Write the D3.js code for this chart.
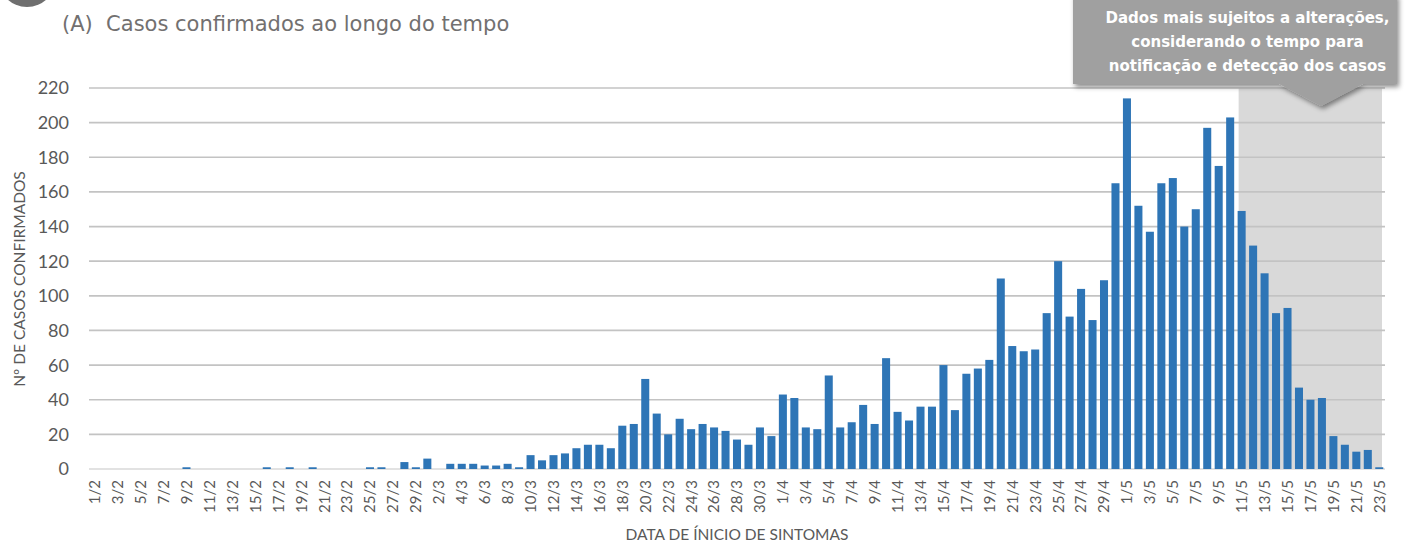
<!DOCTYPE html>
<html>
<head>
<meta charset="utf-8">
<script src="https://cdn.jsdelivr.net/npm/d3@7"></script>
<style>
  html, body { margin: 0; padding: 0; background: #ffffff; }
  svg { display: block; }
</style>
</head>
<body>
<svg id="chart" width="1418" height="543"></svg>
<script>
// ---- data ----
const dates = [
  "1/2","2/2","3/2","4/2","5/2","6/2","7/2","8/2","9/2","10/2","11/2","12/2","13/2","14/2","15/2",
  "16/2","17/2","18/2","19/2","20/2","21/2","22/2","23/2","24/2","25/2","26/2","27/2","28/2","29/2",
  "1/3","2/3","3/3","4/3","5/3","6/3","7/3","8/3","9/3","10/3","11/3","12/3","13/3","14/3","15/3",
  "16/3","17/3","18/3","19/3","20/3","21/3","22/3","23/3","24/3","25/3","26/3","27/3","28/3","29/3",
  "30/3","31/3",
  "1/4","2/4","3/4","4/4","5/4","6/4","7/4","8/4","9/4","10/4","11/4","12/4","13/4","14/4","15/4",
  "16/4","17/4","18/4","19/4","20/4","21/4","22/4","23/4","24/4","25/4","26/4","27/4","28/4","29/4","30/4",
  "1/5","2/5","3/5","4/5","5/5","6/5","7/5","8/5","9/5","10/5","11/5","12/5","13/5","14/5","15/5",
  "16/5","17/5","18/5","19/5","20/5","21/5","22/5","23/5"
];
const casos = [
  0,0,0,0,0,0,0,0,1,0,0,0,0,0,0,
  1,0,1,0,1,0,0,0,0,1,1,0,4,1,
  6,0,3,3,3,2,2,3,1,8,5,8,9,12,14,
  14,12,25,26,52,32,20,29,23,26,24,22,17,14,
  24,19,
  43,41,24,23,54,24,27,37,26,64,33,28,36,36,60,
  34,55,58,63,110,71,68,69,90,120,88,104,86,109,165,
  214,152,137,165,168,140,150,197,175,203,149,129,113,90,93,
  47,40,41,19,14,10,11,1
];
const yTicks = [0,20,40,60,80,100,120,140,160,180,200,220];
const shadeStart = "11/5";
const title = "(A)  Casos confirmados ao longo do tempo";
const yTitle = "Nº DE CASOS CONFIRMADOS";
const xTitle = "DATA DE ÍNICIO DE SINTOMAS";
const calloutLines = ["Dados mais sujeitos a alterações,", "considerando o tempo para", "notificação e detecção dos casos"];

// ---- layout ----
const svg = d3.select("#chart");
const pLeft = 89, pRight = 1385, pTop = 88, pBottom = 469;

const x = d3.scaleBand().domain(dates).range([pLeft, pRight]).paddingInner(0.3).paddingOuter(0.15);
const y = d3.scaleLinear().domain([0, 220]).range([pBottom, pTop]);

const tickFont = "Lato, 'Open Sans', sans-serif";
const grey = "#595959";

// decorative circle top-left
svg.append("circle").attr("cx", 27).attr("cy", -22).attr("r", 29).attr("fill", "#6f6f6f");

// title
svg.append("text").attr("x", 62).attr("y", 31)
  .attr("font-family", "'DejaVu Sans', sans-serif").attr("font-size", 21)
  .attr("fill", "#727070").style("white-space", "pre").text(title);

// shaded region
const shadeX0 = x(shadeStart) + 1;
svg.append("rect").attr("x", shadeX0).attr("y", y(220))
  .attr("width", pRight - 3 - shadeX0).attr("height", y(0) - y(220))
  .attr("fill", "#d9d9d9");

// gridlines
svg.append("g").selectAll("line").data(yTicks).join("line")
  .attr("x1", pLeft).attr("x2", pRight)
  .attr("y1", d => y(d)).attr("y2", d => y(d))
  .attr("stroke", d => d === 0 ? "#d9d9d9" : "#c3c3c3").attr("stroke-width", 1.7);

// y tick labels
svg.append("g").selectAll("text").data(yTicks).join("text")
  .attr("x", 69).attr("y", d => y(d)).attr("dy", "0.36em")
  .attr("text-anchor", "end").attr("font-family", tickFont).attr("font-size", 18)
  .attr("fill", grey).text(d => d);

// bars
svg.append("g").selectAll("rect").data(dates).join("rect")
  .attr("x", d => x(d)).attr("width", x.bandwidth())
  .attr("y", (d, i) => y(casos[i])).attr("height", (d, i) => y(0) - y(casos[i]))
  .attr("fill", "#2e75b6");

// x tick labels (every other date)
svg.append("g").selectAll("text").data(dates.filter((d, i) => i % 2 === 0)).join("text")
  .attr("transform", d => `translate(${x(d) + x.bandwidth() / 2},480) rotate(-90)`)
  .attr("text-anchor", "end").attr("dy", "0.36em")
  .attr("font-family", tickFont).attr("font-size", 15)
  .attr("fill", grey).text(d => d);

// axis titles
svg.append("text").attr("transform", "translate(25,279) rotate(-90)")
  .attr("text-anchor", "middle").attr("font-family", tickFont).attr("font-size", 15.5)
  .attr("fill", grey).text(yTitle);
svg.append("text").attr("x", 737).attr("y", 540)
  .attr("text-anchor", "middle").attr("font-family", tickFont).attr("font-size", 15.5)
  .attr("fill", grey).text(xTitle);

// callout
const defs = svg.append("defs");
const f = defs.append("filter").attr("id", "shadow").attr("x", "-10%").attr("y", "-10%").attr("width", "130%").attr("height", "140%");
f.append("feDropShadow").attr("dx", 2).attr("dy", 3).attr("stdDeviation", 2.5).attr("flood-color", "#000").attr("flood-opacity", 0.45);
const cg = svg.append("g").attr("filter", "url(#shadow)");
cg.append("path")
  .attr("d", "M1073,-6 L1397,-6 L1397,84 L1363,84 L1321,106 L1279,84 L1073,84 Z")
  .attr("fill", "#a0a0a0");
svg.append("g").selectAll("text").data(calloutLines).join("text")
  .attr("x", 1247.5).attr("y", (d, i) => 22.5 + i * 24)
  .attr("text-anchor", "middle").attr("font-family", "'DejaVu Sans', sans-serif")
  .attr("font-weight", "bold").attr("font-size", 15).attr("fill", "#ffffff")
  .text(d => d);
</script>
</body>
</html>
